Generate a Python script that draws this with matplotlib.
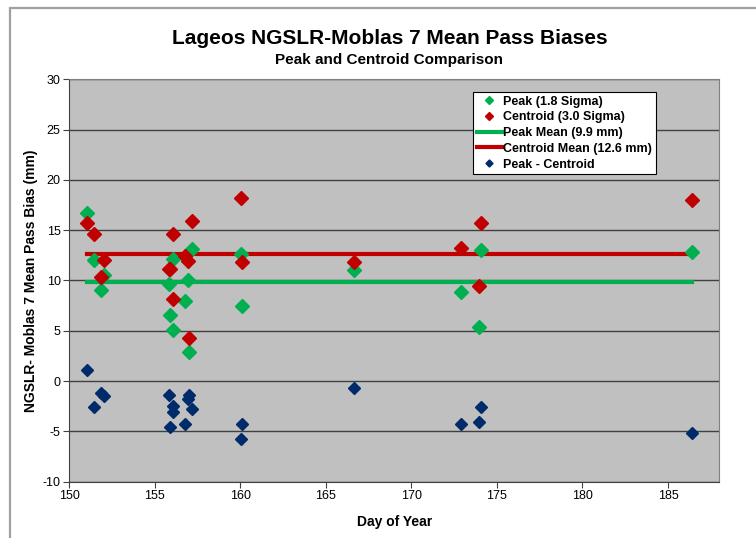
import numpy as np
import matplotlib
matplotlib.use('Agg')
import matplotlib.pyplot as plt
from matplotlib.patches import Rectangle

plt.rcParams['font.family'] = ['Liberation Sans', 'DejaVu Sans']
plt.rcParams['axes.unicode_minus'] = False

# day of year for each pass
day = [151.07, 151.46, 151.85, 152.03, 155.86, 155.90, 156.06, 156.09, 156.79, 156.97,
       157.00, 157.18, 160.05, 160.10, 166.65, 172.88, 173.93, 174.08, 186.42]
# peak (1.8 sigma) bias, mm
peak = [16.7, 12.0, 9.1, 10.5, 9.7, 6.6, 5.1, 12.1, 8.0, 10.0,
        2.9, 13.1, 12.6, 7.5, 11.0, 8.9, 5.4, 13.0, 12.8]
# centroid (3.0 sigma) bias, mm
centroid = [15.7, 14.6, 10.3, 12.0, 11.1, 11.1, 8.2, 14.6, 12.4, 11.9,
            4.3, 15.9, 18.2, 11.8, 11.8, 13.2, 9.5, 15.7, 18.0]
# peak - centroid, mm
diff = [1.1, -2.6, -1.2, -1.5, -1.4, -4.6, -3.1, -2.5, -4.3, -1.8,
        -1.4, -2.8, -5.8, -4.3, -0.7, -4.3, -4.1, -2.6, -5.2]
peak_mean = 9.9
centroid_mean = 12.6

green = '#00B050'
red = '#C00000'
navy = '#002B6B'

fig = plt.figure(figsize=(7.56, 5.38), dpi=100)
fig.patches.append(Rectangle((10 / 756, -0.01), 1.05, (538 - 8) / 538 + 0.01,
                             transform=fig.transFigure, fill=False,
                             edgecolor='#A0A0A0', linewidth=1.6))
ax = fig.add_axes([69 / 756, (538 - 481.7) / 538, 650.3 / 756, 402.4 / 538])
ax.set_facecolor('#C0C0C0')

ax.set_xlim(150, 188)
ax.set_ylim(-10, 30)
ax.set_yticks(np.arange(-10, 31, 5))
ax.set_xticks(np.arange(150, 186, 5))
ax.grid(axis='y', color='#404040', linewidth=1)
ax.set_axisbelow(True)

ax.plot(day, peak, linestyle='none', marker='D', ms=7.5, color=green, label='Peak (1.8 Sigma)', zorder=3)
ax.plot(day, centroid, linestyle='none', marker='D', ms=7.5, color=red, label='Centroid (3.0 Sigma)', zorder=3)
ax.plot([day[0], day[-1]], [peak_mean, peak_mean], color=green, lw=3, label='Peak Mean (9.9 mm)', zorder=2)
ax.plot([day[0], day[-1]], [centroid_mean, centroid_mean], color=red, lw=3, label='Centroid Mean (12.6 mm)', zorder=2)
ax.plot(day, diff, linestyle='none', marker='D', ms=6, color=navy, label='Peak - Centroid', zorder=3)

for s in ['top', 'right']:
    ax.spines[s].set_color('#808080')
for s in ['left', 'bottom']:
    ax.spines[s].set_color('#404040')
ax.tick_params(direction='out', length=4, width=0.8, color='#404040', labelsize=9, pad=2)

ax.set_xlabel('Day of Year', fontsize=10, fontweight='bold')
ax.xaxis.set_label_coords(0.5, -0.083)
ax.set_ylabel('NGSLR- Moblas 7 Mean Pass Bias (mm)', fontsize=10, fontweight='bold')
ax.yaxis.set_label_coords(-0.048, 0.5)

fig.text(0.515, 1 - 38 / 538, 'Lageos NGSLR-Moblas 7 Mean Pass Biases', ha='center', va='center',
         fontsize=15, fontweight='bold')
fig.text(0.515, 1 - 60 / 538, 'Peak and Centroid Comparison', ha='center', va='center',
         fontsize=11, fontweight='bold')

leg = ax.legend(loc='upper left', bbox_to_anchor=(0.621, 0.969),
                prop={'weight': 'bold', 'size': 9}, frameon=True, fancybox=False,
                framealpha=1, edgecolor='black', handlelength=2.0, handletextpad=0.15,
                labelspacing=0.3, borderpad=0.3, borderaxespad=0, markerscale=0.6)
leg.get_frame().set_linewidth(0.8)

fig.savefig('out.png', dpi=100)
